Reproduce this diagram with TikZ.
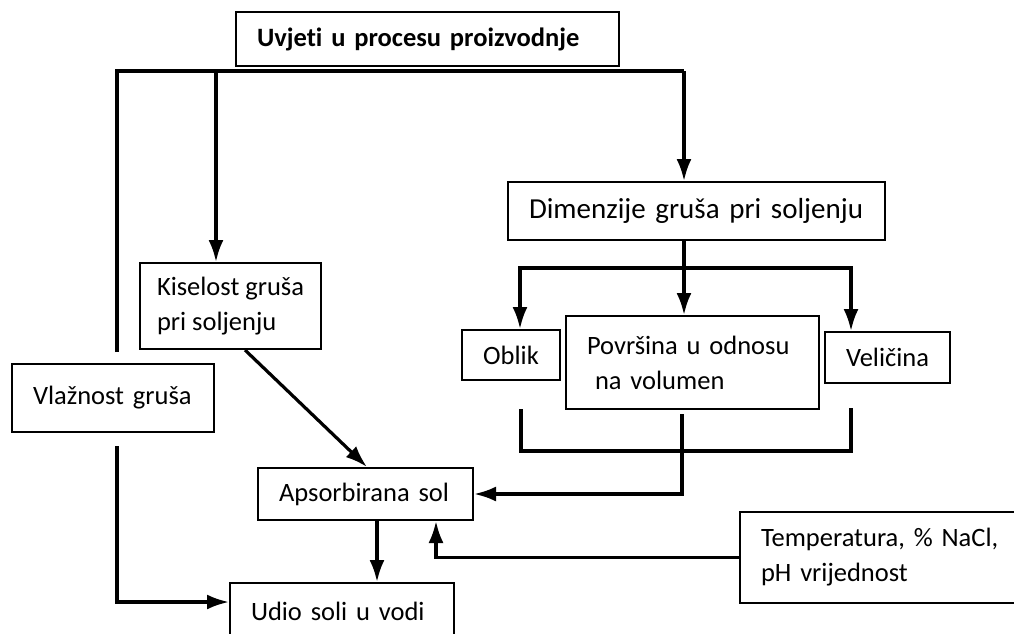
\documentclass[tikz,border=0pt]{standalone}
\usepackage{fontspec}
\setmainfont{Carlito}[Ligatures=NoCommon]
\usetikzlibrary{arrows.meta,positioning}

\begin{document}
\begin{tikzpicture}[
    x=1pt, y=-1pt,
    font=\fontsize{26.5}{35}\selectfont,
    box/.style={rectangle, draw, line width=2pt, align=left, inner xsep=21pt, inner ysep=0pt},
    tag/.style={rectangle, draw, line width=2pt, align=center, inner sep=0pt},
    link/.style={line width=3.2pt},
    arrow/.style={-{Latex[length=22pt,width=15pt]}, line width=3.2pt}
]
\useasboundingbox (0,0) rectangle (1014,633);
\clip (0,0) rectangle (1014,633);

% boxes
\node[box, text width=341pt, minimum height=54pt, font=\fontsize{26.5}{35}\selectfont\bfseries] (uvjeti) at (427.5,39) {Uvjeti u procesu proizvodnje};
\node[box, anchor=north west, inner xsep=17pt, minimum height=86pt] (kis) at (139,262) {Kiselost gruša\\pri soljenju};
\node[box, text width=160pt, minimum height=68pt] (vlaz) at (113,398) {Vlažnost gruša};
\node[box, text width=335pt, minimum height=58pt, font=\fontsize{29}{35}\selectfont] (dim) at (696.5,211) {Dimenzije gruša pri soljenju};
\node[box, text width=211pt, minimum height=93pt] (pov) at (692.5,362.5) {Površina u odnosu\\\hspace*{8pt}na volumen};
\node[tag, minimum width=98pt, minimum height=50pt, left=4pt of pov, yshift=7.5pt] (obl) {Oblik};
\node[tag, minimum width=125pt, minimum height=51pt, right=4pt of pov, yshift=5pt] (vel) {Veličina};
\node[box, text width=173pt, minimum height=52pt] (aps) at (365.5,494) {Apsorbirana sol};
\node[box, text width=182pt, minimum height=57pt] (udio) at (342,611.5) {Udio soli u vodi};
\node[box, text width=238pt, minimum height=91pt] (temp) at (880,557.5) {Temperatura, \% NaCl,\\pH vrijednost};

% free ends of the lines
\coordinate (busL) at (117,71);
\coordinate (busK) at (216,71);
\coordinate (busR) at (684,71);
\coordinate (bend) at (117,602);
\coordinate (forkL) at (520,268);
\coordinate (forkM) at (684,268);
\coordinate (forkR) at (851,268);
\coordinate (joinL) at (521,451);
\coordinate (joinM) at (682,451);
\coordinate (joinR) at (851,451);

% connectors
\draw[link, shorten <=11pt] (vlaz.north -| busL) -- (busL) -- (busR);
\draw[arrow] (busK) -- (kis.north -| busK);
\draw[arrow] (busR) -- (dim.north -| busR);
\draw[arrow, shorten <=13pt] (vlaz.south -| busL) -- (bend) -- (bend -| udio.west);
\draw[arrow] ([xshift=106pt]kis.south west) -- ([xshift=1.5pt]aps.north);

\draw[link] (dim.south -| forkM) -- (forkM);
\draw[arrow] (forkM) -- (forkL) -- (obl.north -| forkL);
\draw[arrow] (forkM) -- (forkR) -- (vel.north -| forkR);
\draw[arrow] (forkM) -- (pov.north -| forkM);

\draw[link, shorten <=28pt, shorten >=24pt] (obl.south -| joinL) -- (joinL) -- (joinR) -- (vel.south -| joinR);
\draw[arrow, shorten <=4pt] (pov.south -| joinM) -- (joinM) |- (aps.east);

\draw[arrow] (temp.west) -| ([xshift=70.5pt]aps.south);
\draw[arrow] ([xshift=11.5pt]aps.south) -- ([xshift=11.5pt]aps.south |- udio.north);

\end{tikzpicture}
\end{document}
